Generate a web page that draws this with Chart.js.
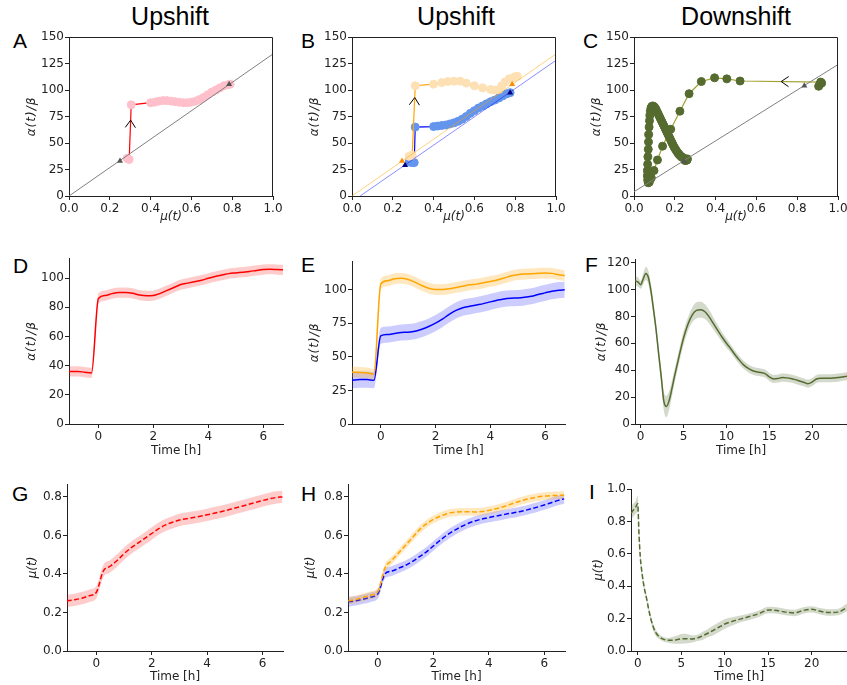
<!DOCTYPE html>
<html>
<head>
<meta charset="utf-8">
<script src="https://cdn.jsdelivr.net/npm/chart.js@4.4.0/dist/chart.umd.min.js"></script>
<style>
  html, body { margin: 0; padding: 0; background: #fff; }
  body { position: relative; width: 847px; height: 685px; overflow: hidden; }
  .head { position: absolute; width: 200px; text-align: center; font: 25px/25px "Liberation Sans", Arial, sans-serif; color: #000; }
  .tag { position: absolute; font: 21px/21px "Liberation Sans", Arial, sans-serif; color: #000; }
</style>
</head>
<body>
<div class="head" style="left:70px;top:4px">Upshift</div>
<div class="head" style="left:356px;top:4px">Upshift</div>
<div class="head" style="left:636px;top:4px">Downshift</div>
<div class="tag" style="left:13px;top:30px">A</div>
<div class="tag" style="left:301px;top:30px">B</div>
<div class="tag" style="left:583px;top:30px">C</div>
<div class="tag" style="left:13px;top:255px">D</div>
<div class="tag" style="left:301px;top:254px">E</div>
<div class="tag" style="left:585px;top:254px">F</div>
<div class="tag" style="left:12px;top:483px">G</div>
<div class="tag" style="left:301px;top:483px">H</div>
<div class="tag" style="left:589px;top:481px">I</div>
<script>
// time grid of the upshift experiments [h]
const tUp = [-1.07, -0.75, -0.5, -0.25, 0, 0.25, 0.5, 0.75, 1, 1.25, 1.5, 1.75, 2, 2.25, 2.5, 2.75,
  3, 3.25, 3.5, 3.75, 4, 4.25, 4.5, 4.75, 5, 5.25, 5.5, 5.75, 6, 6.25, 6.5, 6.72];

// alpha(t)/beta, upshift (D, E)
const alphaD = [36, 36, 35.5, 35, 86, 88, 89.3, 90, 90, 89.5, 88.3, 87.8, 88, 89.5, 91.5, 93.5,
  95.5, 96.5, 97.5, 98.5, 99.8, 101, 102, 103, 103.5, 104, 104.5, 105.2, 105.8, 106, 105.8, 105.6];
const alphaDsd = 3.5;
const alphaEo = [38.5, 38.3, 38, 37, 104, 106.5, 108, 108.3, 107.5, 105.5, 103, 101, 100, 100, 100.5, 101.5,
  102.5, 103.5, 104, 105, 106, 107, 108.5, 110, 111, 111.5, 111.8, 112, 112.2, 112, 111, 110.3];
const alphaEosd = 4;
const alphaEb = [32.5, 33, 33, 32.5, 65.5, 66.5, 67.3, 68, 68.3, 69, 70.5, 72.5, 75, 78, 81.5, 84.5,
  86.5, 87.5, 88.5, 89.5, 90.8, 92, 93, 93.5, 93.7, 94.2, 95, 96.3, 97.5, 98.7, 99.5, 99.8];
const alphaEbsd = 6;

// mu(t), upshift (G, H)
const muG = [0.26, 0.267, 0.275, 0.287, 0.305, 0.415, 0.44, 0.47, 0.505, 0.535, 0.56, 0.585, 0.61, 0.635, 0.655, 0.668,
  0.68, 0.687, 0.693, 0.699, 0.707, 0.715, 0.723, 0.732, 0.742, 0.751, 0.761, 0.771, 0.781, 0.79, 0.797, 0.80];
const muGsd = 0.032;
const muHo = [0.26, 0.27, 0.28, 0.29, 0.31, 0.43, 0.47, 0.51, 0.55, 0.59, 0.63, 0.66, 0.683, 0.70, 0.713, 0.72,
  0.723, 0.723, 0.722, 0.724, 0.73, 0.738, 0.748, 0.76, 0.772, 0.783, 0.792, 0.799, 0.804, 0.807, 0.808, 0.809];
const muHosd = 0.02;
const muHb = [0.255, 0.262, 0.27, 0.28, 0.297, 0.40, 0.415, 0.43, 0.445, 0.465, 0.49, 0.515, 0.545, 0.575, 0.603, 0.625,
  0.645, 0.662, 0.675, 0.685, 0.693, 0.70, 0.707, 0.714, 0.72, 0.728, 0.737, 0.747, 0.758, 0.77, 0.782, 0.79];
const muHbsd = 0.025;

// downshift (F)
const tF = [-0.66, -0.3, 0, 0.3, 0.6, 0.9, 1.2, 1.5, 1.8, 2.1, 2.4, 2.7, 3, 3.3, 3.6, 4, 4.5, 5, 5.5, 6, 6.5, 7,
  7.5, 8, 8.5, 9, 9.5, 10, 10.5, 11, 11.5, 12, 12.5, 13, 13.5, 14, 14.5, 15, 15.5, 16, 16.5, 17, 17.5, 18,
  18.5, 19, 19.5, 20, 20.5, 21, 21.5, 22, 22.5, 23, 23.5, 24.1];
const alphaF = [106.5, 105.5, 103.5, 108, 112, 109, 99, 85, 70, 52, 35, 17, 13, 17, 25, 37, 51, 64, 74, 81, 84.5, 85,
  83.5, 79.5, 74.5, 69.5, 64.5, 60, 56, 51.5, 47.5, 44, 41.5, 39.8, 38.8, 38.3, 37.5, 35, 33.5, 33.8, 34.5, 34.3, 33.8, 33,
  32, 31, 30, 31.3, 33.5, 34, 34, 34, 34.2, 34.5, 35, 35.5];
const alphaFsd = [3.5, 3.5, 3, 4, 5, 5, 5, 5, 5, 5, 6, 7, 8, 7, 6, 5, 5, 5, 5, 5.5, 6, 6,
  5.5, 5, 4.5, 4, 3.5, 3.5, 3, 3, 3, 3, 3, 3, 3, 3, 3, 3, 3, 3, 3, 3, 3, 3,
  3, 3, 3, 3, 3, 3, 3, 3, 3, 3, 3, 3];

// downshift (I)
const tI = [-0.77, -0.5, -0.25, 0, 0.15, 0.3, 0.5, 0.75, 1, 1.25, 1.5, 1.75, 2, 2.5, 3, 3.5, 4, 4.5, 5, 5.5, 6, 6.5,
  7, 7.5, 8, 8.5, 9, 9.5, 10, 11, 12, 13, 14, 15, 16, 17, 18, 19, 20, 21, 22, 23, 24.1];
const muI = [0.85, 0.87, 0.885, 0.91, 0.72, 0.58, 0.48, 0.39, 0.33, 0.26, 0.20, 0.155, 0.12, 0.087, 0.072, 0.066, 0.066, 0.07, 0.075, 0.076, 0.074, 0.076,
  0.083, 0.095, 0.108, 0.122, 0.137, 0.152, 0.167, 0.185, 0.20, 0.215, 0.232, 0.253, 0.25, 0.24, 0.235, 0.25, 0.257, 0.245, 0.237, 0.24, 0.27];
const muIsd = [0.04, 0.04, 0.04, 0.05, 0.04, 0.03, 0.025, 0.02, 0.02, 0.02, 0.02, 0.02, 0.02, 0.015, 0.015, 0.015, 0.02, 0.025, 0.03, 0.03, 0.025, 0.02,
  0.02, 0.025, 0.025, 0.03, 0.03, 0.03, 0.03, 0.025, 0.02, 0.02, 0.02, 0.02, 0.02, 0.02, 0.02, 0.02, 0.02, 0.02, 0.02, 0.02, 0.025];

// phase-plane trajectories (mu, alpha/beta)
const muA = [0.285, 0.29, 0.295, 0.305, 0.40, 0.42, 0.44, 0.46, 0.48, 0.50, 0.52, 0.54, 0.56, 0.58, 0.60, 0.62, 0.64, 0.66, 0.68, 0.70, 0.72, 0.74, 0.76, 0.78, 0.79];
const alphaA = [35.5, 35, 34.5, 86, 88, 88.5, 89.5, 90, 90, 89.5, 89, 88.5, 88, 88, 88.5, 89.5, 91, 93, 95.5, 98, 100, 102, 104, 105, 105.5];
const muBo = [0.28, 0.29, 0.295, 0.31, 0.40, 0.44, 0.47, 0.50, 0.53, 0.56, 0.60, 0.64, 0.68, 0.70, 0.72, 0.735, 0.75, 0.77, 0.79, 0.80, 0.81];
const alphaBo = [37.5, 38, 38.5, 104, 105.5, 107, 108, 108.3, 108.3, 106.5, 104, 102, 100.5, 100, 100.5, 104, 107.5, 110.5, 111.5, 112.5, 113];
const muBb = [0.28, 0.295, 0.305, 0.31, 0.40, 0.42, 0.44, 0.46, 0.48, 0.50, 0.52, 0.54, 0.56, 0.58, 0.60, 0.62, 0.64, 0.66, 0.68, 0.70, 0.72, 0.74, 0.76, 0.775];
const alphaBb = [32, 31.5, 31.5, 65, 65.5, 66, 66.5, 67, 68, 69, 70.5, 72.5, 75, 78, 80.5, 83, 85, 87, 89, 90.5, 92.5, 94.5, 96.5, 97.5];
const muC = [0.905, 0.91, 0.92, 0.915, 0.52, 0.455, 0.395, 0.33, 0.27, 0.225, 0.18, 0.14, 0.115, 0.098, 0.085, 0.075,
  0.07, 0.067, 0.066, 0.066, 0.067, 0.068, 0.07, 0.071, 0.072, 0.074, 0.076, 0.078, 0.08, 0.083, 0.087, 0.092,
  0.097, 0.102, 0.107, 0.112, 0.117, 0.122, 0.127, 0.132, 0.137, 0.142, 0.147, 0.152, 0.157, 0.162, 0.167, 0.172,
  0.177, 0.182, 0.187, 0.192, 0.197, 0.202, 0.207, 0.212, 0.217, 0.222, 0.227, 0.232, 0.237, 0.242, 0.248, 0.254,
  0.26, 0.255, 0.25, 0.255, 0.262];
const alphaC = [103.5, 105, 106.5, 107.5, 108.5, 110.5, 111.5, 108, 96.5, 80, 63, 47, 34, 24, 17, 13,
  12.5, 15, 19, 24, 30, 37, 44, 51, 58, 65, 71, 76, 80, 83, 84.5, 85,
  84.5, 83.5, 82, 80, 78, 76, 74, 72, 70, 68, 66, 64, 62, 60, 58, 56,
  54, 52, 50, 48, 46, 44.5, 43, 41.5, 40, 39, 38, 37, 36.5, 36, 35, 34.5,
  34, 33.5, 33.5, 34, 35];

// steady states and alpha/beta = k * mu reference lines
const ssA_mu = [0.25, 0.785], ssA_alpha = [33, 105.5];
const ssBo_mu = [0.245, 0.785], ssBo_alpha = [33, 105.5];
const ssBb_mu = [0.26, 0.775], ssBb_alpha = [29, 97.5];
const ssC_mu = [0.245, 0.835], ssC_alpha = [32.5, 104];
const refA_mu = [0, 1], refA_alpha = [0, 134];
const refBo_mu = [0, 1], refBo_alpha = [0, 134];
const refBb_mu = [0.04, 1], refBb_alpha = [0, 128];
const refC_mu = [0, 1], refC_alpha = [4, 124];

// tick labels
const ticksPhaseX = [0, 0.2, 0.4, 0.6, 0.8, 1.0];
const ticksPhaseY = [0, 25, 50, 75, 100, 125, 150];
const ticksTimeUp = [0, 2, 4, 6];
const ticksTimeDown = [0, 5, 10, 15, 20];
const ticksAlphaD = [0, 20, 40, 60, 80, 100];
const ticksAlphaE = [0, 25, 50, 75, 100];
const ticksAlphaF = [0, 20, 40, 60, 80, 100, 120];
const ticksMuUp = [0, 0.2, 0.4, 0.6, 0.8];
const ticksMuDown = [0, 0.2, 0.4, 0.6, 0.8, 1.0];

const FONT = "'DejaVu Sans', sans-serif";
Chart.defaults.font.family = FONT;
Chart.defaults.font.size = 12;
Chart.defaults.color = '#222';

const pts = (xs, ys) => xs.map((x, i) => ({ x: x, y: ys[i] }));
const shift = (ys, sd, sign) => ys.map((v, i) => v + sign * (Array.isArray(sd) ? sd[i] : sd));

// mean line plus a shaded +-sd band
function withBand(xs, ys, sd, color, fillColor, dash) {
  return [
    { data: pts(xs, ys), borderColor: color, borderWidth: 1.5, borderDash: dash || [], pointRadius: 0, cubicInterpolationMode: 'monotone' },
    { data: pts(xs, shift(ys, sd, 1)), borderWidth: 0, pointRadius: 0, cubicInterpolationMode: 'monotone', fill: false },
    { data: pts(xs, shift(ys, sd, -1)), borderWidth: 0, pointRadius: 0, cubicInterpolationMode: 'monotone', fill: '-1', backgroundColor: fillColor }
  ];
}

function refLine(xs, ys, color) {
  return { data: pts(xs, ys), showLine: true, borderColor: color, borderWidth: 1, pointRadius: 0 };
}
function steady(xs, ys, color) {
  return { data: pts(xs, ys), pointStyle: 'triangle', pointRadius: 3.5, backgroundColor: color, borderColor: color, pointBorderWidth: 0 };
}
function path(xs, ys, line, marker) {
  return { data: pts(xs, ys), showLine: true, borderColor: line, borderWidth: 1.2, pointRadius: 4,
    pointBackgroundColor: marker, pointBorderColor: marker, pointBorderWidth: 1 };
}

// top and right spines for the phase-plane panels
const framePlugin = {
  id: 'frame',
  afterDatasetsDraw(chart, args, opts) {
    if (!opts.box) return;
    const { ctx, chartArea: a } = chart;
    ctx.save();
    ctx.strokeStyle = '#222';
    ctx.lineWidth = 1;
    ctx.beginPath();
    ctx.moveTo(Math.round(a.left), Math.round(a.top) + 0.5);
    ctx.lineTo(Math.round(a.right) - 0.5, Math.round(a.top) + 0.5);
    ctx.lineTo(Math.round(a.right) - 0.5, Math.round(a.bottom));
    ctx.stroke();
    ctx.restore();
  }
};

// axis titles at fixed distances from the plot area
const labelPlugin = {
  id: 'labels',
  afterDraw(chart, args, opts) {
    const { ctx, chartArea: a } = chart;
    const draw = (ax, x, y, rot) => {
      ctx.save();
      ctx.translate(x, y);
      ctx.rotate(rot);
      ctx.font = (ax.italic ? 'italic ' : '') + '12px ' + FONT;
      ctx.letterSpacing = ax.spacing || '0px';
      ctx.fillStyle = '#222';
      ctx.textAlign = 'center';
      ctx.textBaseline = 'middle';
      ctx.fillText(ax.title, 0, 0);
      ctx.restore();
    };
    draw(opts.x, (a.left + a.right) / 2, a.bottom + opts.xGap, 0);
    draw(opts.y, a.left - opts.yGap, (a.top + a.bottom) / 2, -Math.PI / 2);
  }
};

// open arrow head along one segment of a trajectory
const arrowPlugin = {
  id: 'arrow',
  afterDatasetsDraw(chart, args, opts) {
    if (opts.at === undefined) return;
    const p = chart.getDatasetMeta(opts.dataset).data;
    const a = p[opts.segment], b = p[opts.segment + 1];
    const x = a.x + (b.x - a.x) * opts.at, y = a.y + (b.y - a.y) * opts.at;
    const ang = Math.atan2(b.y - a.y, b.x - a.x);
    const len = 9, spread = 0.6;
    const ctx = chart.ctx;
    ctx.save();
    ctx.strokeStyle = '#000';
    ctx.lineWidth = 1;
    ctx.beginPath();
    ctx.moveTo(x - len * Math.cos(ang - spread), y - len * Math.sin(ang - spread));
    ctx.lineTo(x, y);
    ctx.lineTo(x - len * Math.cos(ang + spread), y - len * Math.sin(ang + spread));
    ctx.stroke();
    ctx.restore();
  }
};

function axis(a, size, dir) {
  return {
    type: 'linear', min: a.min, max: a.max,
    afterBuildTicks: s => { s.ticks = a.ticks.map(v => ({ value: v })); },
    afterFit: s => {
      if (dir === 'x') { s.height = size; s.paddingLeft = 0; s.paddingRight = 0; }
      else { s.width = size; s.paddingTop = 0; s.paddingBottom = 0; }
    },
    ticks: { autoSkip: false, maxRotation: 0, padding: dir === 'x' ? 2 : 1, color: '#222',
      callback: v => v.toFixed(a.dec || 0) },
    grid: { drawOnChartArea: false, tickLength: 4, color: '#222' },
    border: { color: '#222' },
    title: { display: false }
  };
}

// box = plot area [left, top, right, bottom] on the page
function panel(box, spec) {
  const [l, t, r, b] = box;
  const W = spec.yGap + 10, H = spec.xGap + 10;
  const padTop = 10, padRight = 16;
  const w = W + (r - l) + padRight, h = padTop + (b - t) + H;
  const cv = document.createElement('canvas');
  cv.width = w; cv.height = h;
  cv.style.cssText = `position:absolute;left:${l - W}px;top:${t - padTop}px;width:${w}px;height:${h}px`;
  document.body.appendChild(cv);
  new Chart(cv, {
    type: spec.type,
    data: { datasets: spec.datasets },
    options: {
      responsive: false,
      animation: false,
      layout: { padding: { top: padTop, right: padRight, bottom: 0, left: 0 } },
      plugins: { legend: { display: false }, tooltip: { enabled: false },
        frame: { box: !!spec.box }, arrow: spec.arrow || {},
        labels: { x: spec.x, y: spec.y, xGap: spec.xGap, yGap: spec.yGap } },
      scales: { x: axis(spec.x, H, 'x'), y: axis(spec.y, W, 'y') }
    },
    plugins: [framePlugin, arrowPlugin, labelPlugin]
  });
}

const alphaTitle = 'α(t)/β', muTitle = 'μ(t)', timeTitle = 'Time [h]';
const phaseX = { min: 0, max: 1, ticks: ticksPhaseX, dec: 1, title: muTitle, italic: true };
const phaseY = { min: 0, max: 150, ticks: ticksPhaseY, title: alphaTitle, italic: true, spacing: '1px' };

// A
panel([69, 37, 273, 196], {
  type: 'scatter', box: true, yGap: 37, xGap: 21, x: phaseX, y: phaseY,
  arrow: { dataset: 2, segment: 2, at: 0.72 },
  datasets: [
    steady(ssA_mu, ssA_alpha, '#555555'),
    refLine(refA_mu, refA_alpha, '#808080'),
    path(muA, alphaA, '#ff0000', '#ffc0cb')
  ]
});
// B
panel([352, 37, 556, 196], {
  type: 'scatter', box: true, yGap: 37, xGap: 21, x: phaseX, y: phaseY,
  arrow: { dataset: 4, segment: 2, at: 0.83 },
  datasets: [
    steady(ssBo_mu, ssBo_alpha, '#ff8c00'),
    steady(ssBb_mu, ssBb_alpha, '#000080'),
    refLine(refBo_mu, refBo_alpha, 'rgba(255,165,0,0.5)'),
    refLine(refBb_mu, refBb_alpha, 'rgba(0,0,255,0.45)'),
    path(muBo, alphaBo, '#ffa500', '#fde0b4'),
    path(muBb, alphaBb, '#0000ff', '#6495ed')
  ]
});
// C
panel([634, 37, 838, 196], {
  type: 'scatter', box: true, yGap: 37, xGap: 21, x: phaseX, y: phaseY,
  arrow: { dataset: 2, segment: 3, at: 0.49 },
  datasets: [
    steady(ssC_mu, ssC_alpha, '#555555'),
    refLine(refC_mu, refC_alpha, '#808080'),
    path(muC, alphaC, '#a3a030', '#556b2f')
  ]
});
// D
panel([69, 258, 283, 424], {
  type: 'line', yGap: 37, xGap: 27,
  x: { min: -1.07, max: 6.72, ticks: ticksTimeUp, title: timeTitle },
  y: { min: 0, max: 113.7, ticks: ticksAlphaD, title: alphaTitle, italic: true, spacing: '1px' },
  datasets: withBand(tUp, alphaD, alphaDsd, '#ff0000', 'rgba(255,0,0,0.2)')
});
// E
panel([352, 261, 565, 424], {
  type: 'line', yGap: 37, xGap: 27,
  x: { min: -1.05, max: 6.73, ticks: ticksTimeUp, title: timeTitle },
  y: { min: 0, max: 121.2, ticks: ticksAlphaE, title: alphaTitle, italic: true, spacing: '1px' },
  datasets: withBand(tUp, alphaEo, alphaEosd, '#ffa500', 'rgba(255,165,0,0.25)')
    .concat(withBand(tUp, alphaEb, alphaEbsd, '#0000ff', 'rgba(0,0,255,0.2)'))
});
// F
panel([635, 259, 847, 424], {
  type: 'line', yGap: 33, xGap: 27,
  x: { min: -0.66, max: 24.05, ticks: ticksTimeDown, title: timeTitle },
  y: { min: 0, max: 122.7, ticks: ticksAlphaF, title: alphaTitle, italic: true, spacing: '1px' },
  datasets: withBand(tF, alphaF, alphaFsd, '#556b2f', 'rgba(85,107,47,0.25)')
});
// G
panel([67, 484, 283, 651], {
  type: 'line', yGap: 34, xGap: 26,
  x: { min: -1.06, max: 6.74, ticks: ticksTimeUp, title: timeTitle },
  y: { min: 0, max: 0.867, ticks: ticksMuUp, dec: 1, title: muTitle, italic: true },
  datasets: withBand(tUp, muG, muGsd, '#ff0000', 'rgba(255,0,0,0.2)', [5, 2.5])
});
// H
panel([348, 484, 565, 651], {
  type: 'line', yGap: 37, xGap: 26,
  x: { min: -1.08, max: 6.75, ticks: ticksTimeUp, title: timeTitle },
  y: { min: 0, max: 0.867, ticks: ticksMuUp, dec: 1, title: muTitle, italic: true },
  datasets: withBand(tUp, muHo, muHosd, '#ffa500', 'rgba(255,165,0,0.25)', [5, 2.5])
    .concat(withBand(tUp, muHb, muHbsd, '#0000ff', 'rgba(0,0,255,0.2)', [5, 2.5]))
});
// I
panel([631, 489, 847, 651], {
  type: 'line', yGap: 32, xGap: 26,
  x: { min: -0.77, max: 24.05, ticks: ticksTimeDown, title: timeTitle },
  y: { min: 0, max: 1.0, ticks: ticksMuDown, dec: 1, title: muTitle, italic: true },
  datasets: withBand(tI, muI, muIsd, '#556b2f', 'rgba(85,107,47,0.25)', [5, 2.5])
});
</script>
</body>
</html>
